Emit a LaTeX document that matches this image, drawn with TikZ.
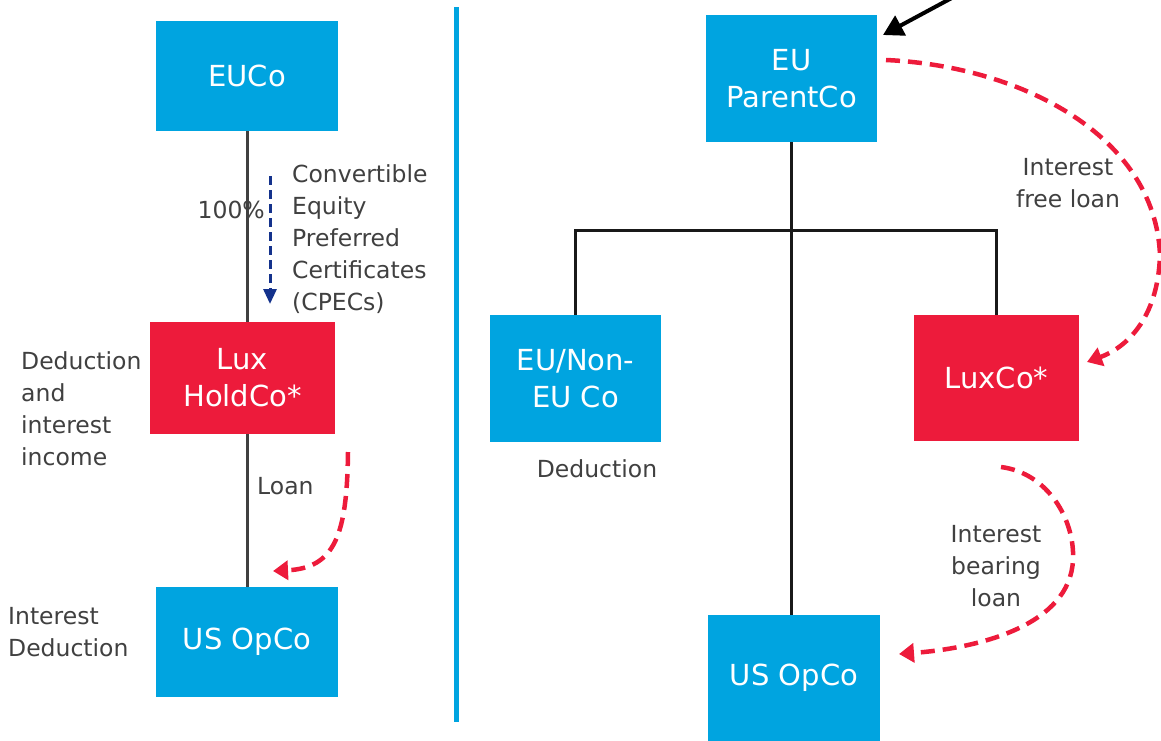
\documentclass[tikz,border=0pt]{standalone}
\usepackage{fontspec}
\setmainfont{DejaVu Sans}
\usetikzlibrary{arrows.meta,calc}
\definecolor{boxblue}{RGB}{0,164,224}
\definecolor{boxred}{RGB}{237,27,59}
\definecolor{txtgray}{RGB}{64,64,64}
\definecolor{navy}{RGB}{20,50,140}
\begin{document}
\begin{tikzpicture}[x=1pt,y=-1pt,
  entity/.style={inner sep=2pt,align=center,text=white,font=\fontsize{29}{37}\selectfont},
  bluebox/.style={entity,fill=boxblue},
  redbox/.style={entity,fill=boxred},
  lbl/.style={inner sep=0pt,text=txtgray,font=\fontsize{23.5}{32}\selectfont},
  tree/.style={line width=3pt,black!90},
  ltree/.style={line width=3pt,txtgray},
  flow/.style={line width=4.5pt,boxred,dash pattern=on 14pt off 8pt,-{Triangle[length=15pt,width=19pt]}},
  equity/.style={line width=3pt,navy,dash pattern=on 9pt off 5pt,-{Triangle[length=15pt,width=13pt]}}
]
\useasboundingbox (0,0) rectangle (1161,740);
\clip (0,0) rectangle (1161,740);

% left part
\node[bluebox,minimum width=182pt,minimum height=110pt] (euco) at (247,76) {EUCo};
\node[redbox,minimum width=185pt,minimum height=112pt] (luxh) at (242.5,378) {Lux\\HoldCo*};
\node[bluebox,minimum width=182pt,minimum height=110pt] (usl) at (247,642) {US OpCo};

\draw[ltree] (euco.south) -- (euco.south |- luxh.north);
\draw[ltree] (luxh.south -| euco.south) -- (usl.north);

\node[lbl,anchor=east] (pct) at (265,210) {100\%};
\coordinate (eqs) at (270,176);
\coordinate (eqe) at (270,304);
\draw[equity] (eqs) -- (eqe);
\node[lbl,anchor=west,align=left] (cpec) at (292,239) {Convertible\\Equity\\Preferred\\Certificates\\(CPECs)};

\node[lbl,anchor=west,align=left] (dedl) at (21,409) {Deduction\\and\\interest\\income};
\node[lbl,anchor=west] (loan) at (257,486) {Loan};
\node[lbl,anchor=west,align=left] (intd) at (8,632) {Interest\\Deduction};

\coordinate (ls) at (348,452);
\coordinate (le) at (273,571);
\draw[flow] (ls) .. controls (347,535) and (335,568) .. (le);

% divider
\coordinate (dtop) at (456.5,7);
\coordinate (dbot) at (456.5,722);
\draw[line width=5pt,boxblue] (dtop) -- (dbot);

% right part
\node[bluebox,minimum width=171pt,minimum height=127pt] (par) at (791.5,78.5) {EU\\ParentCo};
\node[bluebox,minimum width=171pt,minimum height=127pt] (eun) at (575.5,378.5) {EU/Non-\\EU Co};
\node[redbox,minimum width=165pt,minimum height=126pt] (luxc) at (996.5,378) {LuxCo*};
\node[bluebox,minimum width=172pt,minimum height=126pt] (usr) at (794,678) {US OpCo};

\coordinate (bar) at (0,230);
\draw[tree] (par.south) -- (par.south |- usr.north);
\draw[tree] (eun.north) -- (eun.north |- bar) -- (luxc.north |- bar) -- (luxc.north);

\coordinate (ain) at (1013,-35);
\coordinate (atip) at (883,35);
\draw[line width=4pt,black,-{Triangle[length=20pt,width=22pt]}] (ain) -- (atip);

\node[lbl] (ded) at (597,469) {Deduction};
\node[lbl,align=center] (ifl) at (1068,183) {Interest\\free loan};
\node[lbl,align=center] (ibl) at (996,566) {Interest\\bearing\\loan};

\coordinate (fs) at (886,60);
\coordinate (fm) at (1160,255);
\coordinate (fe) at (1087,362);
\draw[flow] (fs) .. controls (1020,66) and (1155,135) .. (fm) .. controls (1158,320) and (1125,348) .. (fe);

\coordinate (bs) at (1001,467);
\coordinate (bm) at (1073,560);
\coordinate (be) at (899,654);
\draw[flow] (bs) .. controls (1048,473) and (1075,520) .. (bm) .. controls (1070,625) and (980,648) .. (be);
\end{tikzpicture}
\end{document}
